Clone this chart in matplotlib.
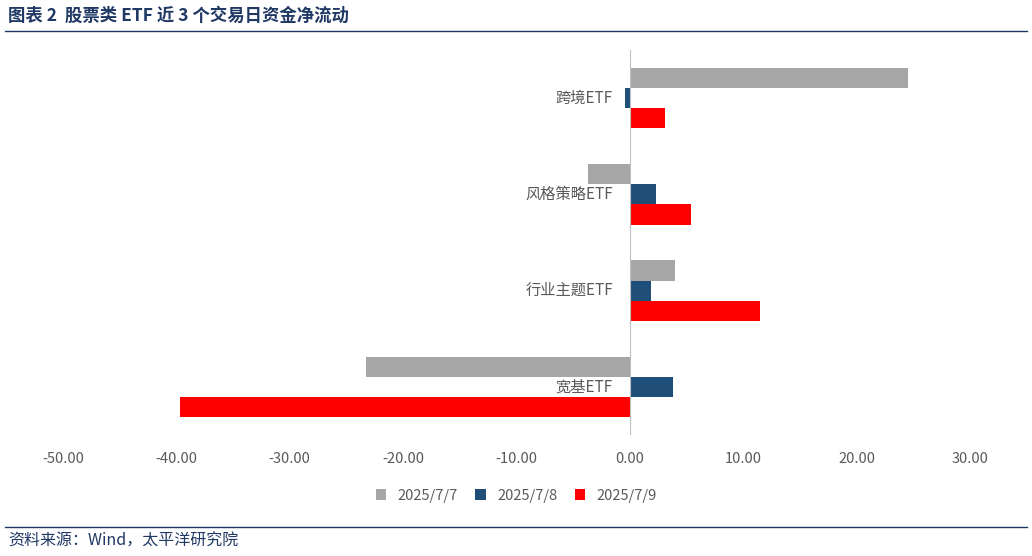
import matplotlib
matplotlib.use("Agg")
import matplotlib.pyplot as plt
import numpy as np

plt.rcParams['font.family'] = ['Noto Sans CJK SC', 'DejaVu Sans']

categories = ['宽基ETF', '行业主题ETF', '风格策略ETF', '跨境ETF']
series_names = ['2025/7/7', '2025/7/8', '2025/7/9']
v_0707 = [-23.3, 4.0, -3.7, 24.5]
v_0708 = [3.8, 1.9, 2.3, -0.4]
v_0709 = [-39.7, 11.5, 5.4, 3.1]
colors = ['#A6A6A6', '#1F4E79', '#FF0000']
xticks = [-50, -40, -30, -20, -10, 0, 10, 20, 30]

fig = plt.figure(figsize=(10.32, 5.56), dpi=100)
ax = fig.add_axes([63/1032, 1-435/556, (970-63)/1032, (435-50)/556])
y = np.arange(len(categories))
h = 0.21
for vals, off, c, n in zip([v_0707, v_0708, v_0709], [h, 0, -h], colors, series_names):
    ax.barh(y + off, vals, height=h, color=c, label=n)

ax.set_xlim(-50, 30)
ax.set_ylim(-0.5, 3.5)
ax.set_xticks(xticks)
ax.set_xticklabels([f'{t:.2f}' for t in xticks], color='#595959', fontsize=10.5)
ax.set_yticks([])
for s in ['top', 'right', 'left', 'bottom']:
    ax.spines[s].set_visible(False)
ax.axvline(0, color='#BFBFBF', lw=0.8)
ax.tick_params(axis='x', length=0, pad=12)
for yi, cat in zip(y, categories):
    ax.text(-1.5, yi, cat, ha='right', va='center', fontsize=11, color='#595959')

ax.legend(loc='upper center', bbox_to_anchor=(0.5, -0.105), ncol=3, frameon=False,
          fontsize=10.5, handlelength=0.7, handleheight=0.7, columnspacing=1.2,
          labelcolor='#595959')

fig.text(8/1032, 1-16/556, '图表 2  股票类 ETF 近 3 个交易日资金净流动', fontsize=12.5,
         fontweight='bold', color='#1F3864', va='center')
fig.add_artist(plt.Line2D([5/1032, 1027/1032], [1-31/556]*2, color='#1F3864', lw=1))
fig.add_artist(plt.Line2D([5/1032, 1027/1032], [1-527/556]*2, color='#1F3864', lw=1))
fig.text(8/1032, 1-541/556, '资料来源：Wind，太平洋研究院', fontsize=11.5, color='#1F3864', va='center')

fig.savefig('out.png', dpi=100)
